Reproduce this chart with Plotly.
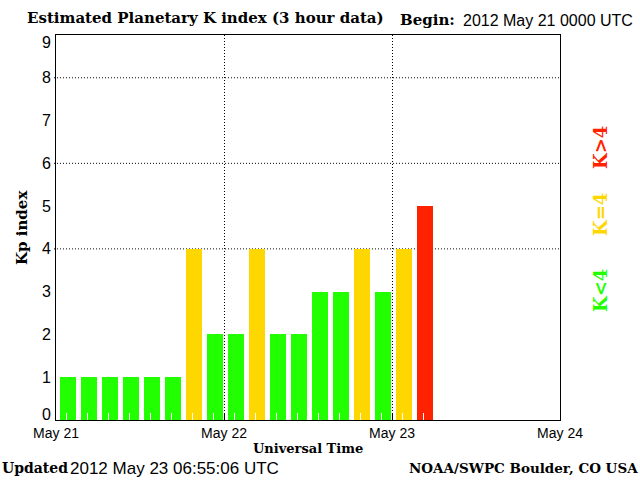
import plotly.graph_objects as go

# ---- data ----
period_start_hr = [0, 3, 6, 9, 12, 15, 18, 21, 24, 27, 30, 33, 36, 39, 42, 45, 48, 51]
kp_values = [1, 1, 1, 1, 1, 1, 4, 2, 2, 4, 2, 2, 3, 3, 4, 3, 4, 5]
day_ticks_hr = [0, 24, 48, 72]
day_labels = ["May 21", "May 22", "May 23", "May 24"]
y_tick_vals = [0.14, 1, 2, 3, 4, 5, 6, 7, 8, 8.82]
y_tick_text = ["0", "1", "2", "3", "4", "5", "6", "7", "8", "9"]
grid_levels = [4, 6, 8]

GREEN = "#22ff00"
YELLOW = "#ffd700"
RED = "#ff2200"


def kcolor(v):
    if v < 4:
        return GREEN
    if v == 4:
        return YELLOW
    return RED


SERIF = "DejaVu Serif"
SANS = "Liberation Sans"

L, R, T, B = 56, 80, 35, 60
W, H = 640, 480
plot_w, plot_h = W - L - R, H - T - B

fig = go.Figure()
fig.add_trace(go.Bar(
    x=period_start_hr,
    y=kp_values,
    marker=dict(color=[kcolor(v) for v in kp_values], line=dict(width=0)),
    width=2.29,
    offset=0.57,
    hoverinfo="x+y",
))

shapes = []
for g in grid_levels:
    shapes.append(dict(type="line", xref="paper", yref="y", x0=-0.004, x1=1, y0=g, y1=g,
                       line=dict(color="black", width=1, dash="1px,2px"), layer="below"))

fig.update_layout(
    width=W, height=H,
    margin=dict(l=L, r=R, t=T, b=B, autoexpand=False),
    paper_bgcolor="white", plot_bgcolor="white",
    showlegend=False,
    bargap=0,
    shapes=shapes,
    xaxis=dict(
        range=[0, 72], tickvals=day_ticks_hr, ticktext=day_labels,
        ticks="inside", ticklen=7, tickcolor="black", tickwidth=1,
        showgrid=True, gridcolor="black", gridwidth=1, griddash="1px,2px",
        showline=True, linecolor="black", linewidth=1, mirror=True,
        zeroline=False, layer="above traces", automargin=False,
        tickfont=dict(family=SANS, size=14, color="black"),
        minor=dict(ticks="inside", ticklen=7, tickcolor="white", tickwidth=1,
                   tick0=1.5, dtick=3, showgrid=False),
        fixedrange=True,
    ),
    yaxis=dict(
        range=[0, 9], tickvals=y_tick_vals, ticktext=y_tick_text,
        ticks="", showgrid=False, zeroline=False,
        showline=True, linecolor="black", linewidth=1, mirror=True,
        automargin=False,
        tickfont=dict(family=SANS, size=16, color="black"),
        ticklabelstandoff=1,
        fixedrange=True,
    ),
)

ann = [
    dict(text="<b>Estimated Planetary K index (3 hour data)</b>", x=25, y=18, anchor="left", font=dict(family=SERIF, size=15)),
    dict(text="<b>Begin:</b>", x=398, y=20, anchor="left", font=dict(family=SERIF, size=15)),
    dict(text="2012 May 21 0000 UTC", x=461, y=20, anchor="left", font=dict(family=SANS, size=16)),
    dict(text="<b>Updated</b>", x=0, y=468, anchor="left", font=dict(family=SERIF, size=14)),
    dict(text="2012 May 23 06:55:06 UTC", x=68, y=468, anchor="left", font=dict(family=SANS, size=17)),
    dict(text="<b>NOAA/SWPC Boulder, CO USA</b>", x=640, y=468, anchor="right", font=dict(family=SERIF, size=13.5)),
    dict(text="<b>Universal Time</b>", x=308, y=448, anchor="center", font=dict(family=SERIF, size=13)),
]
annotations = []
for a in ann:
    annotations.append(dict(
        text=a["text"], showarrow=False,
        xref="paper", yref="paper",
        x=(a["x"] - L) / plot_w, y=(H - B - a["y"]) / plot_h,
        xanchor=a["anchor"], yanchor="middle",
        font=dict(color="black", **a["font"]),
    ))

annotations.append(dict(
    text="<b>Kp index</b>", showarrow=False, textangle=-90,
    xref="paper", yref="paper",
    x=(22 - L) / plot_w, y=(H - B - 228) / plot_h,
    xanchor="center", yanchor="middle",
    font=dict(family=SERIF, size=15, color="black"),
))

for txt, col, yc in [("K&lt;4", GREEN, 291), ("K=4", YELLOW, 215), ("K&gt;4", RED, 148)]:
    annotations.append(dict(
        text="<b>" + txt + "</b>", showarrow=False, textangle=-90,
        xref="paper", yref="paper",
        x=(600 - L) / plot_w, y=(H - B - yc) / plot_h,
        xanchor="center", yanchor="middle",
        font=dict(family=SERIF, size=18, color=col),
    ))

fig.update_layout(annotations=annotations)
fig.write_html("out.html", config={"displayModeBar": False},
               post_script="document.body.style.margin='0';document.body.style.overflow='hidden';")
